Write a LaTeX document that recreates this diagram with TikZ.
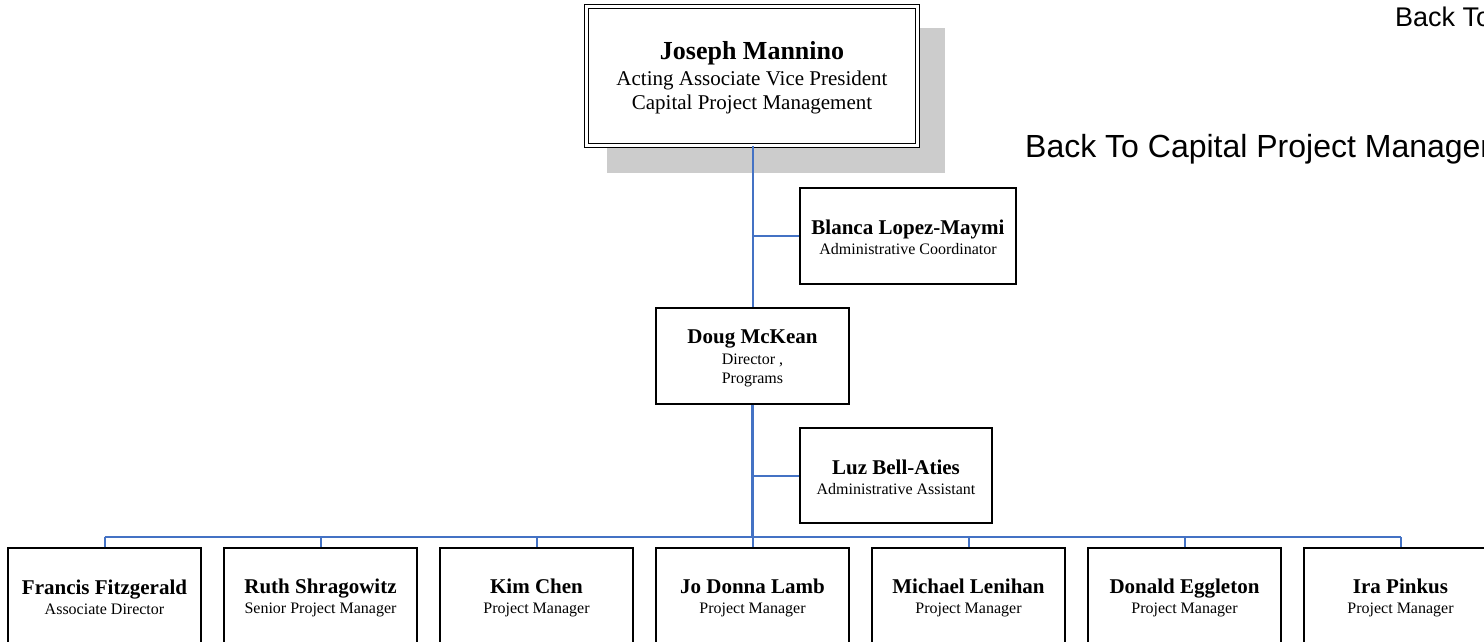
\documentclass[tikz,border=0pt]{standalone}
\usepackage{fontspec}
\setmainfont{Liberation Serif}
\newfontfamily\arialfont{Liberation Sans}
\definecolor{linkblue}{RGB}{68,114,196}
\definecolor{shadowgray}{RGB}{204,204,204}
\newcommand\pname[1]{{\fontsize{21}{21}\selectfont\bfseries\rule{0pt}{18pt}#1}}
\tikzset{
  orgbox/.style={draw=black, line width=1.3pt, fill=white, minimum width=193pt,
    minimum height=96pt, inner sep=0pt, align=center, font=\fontsize{16}{19}\selectfont},
  topbox/.style={draw=black, line width=1.3pt, double=white, double distance=2.4pt,
    fill=white, minimum width=331pt, minimum height=139pt, inner sep=0pt,
    align=center, font=\fontsize{21}{24.5}\selectfont},
  conn/.style={draw=linkblue, line width=2pt},
  trunk/.style={draw=linkblue, line width=3pt},
  backlink/.style={anchor=base west, inner sep=0pt, font=\arialfont}
}
\begin{document}
\begin{tikzpicture}[x=1pt,y=-1pt]
\useasboundingbox (0,0) rectangle (1484,642);
\clip (0,0) rectangle (1484,642);

% shadow of the top box
\fill[shadowgray] (607,28) rectangle (945,173);

% top box
\node[topbox] (jm) at (752,76) {{\fontsize{26}{26}\selectfont\bfseries\rule{0pt}{22pt}Joseph Mannino}\\[1.5pt]
  Acting Associate Vice President\\Capital Project Management};

% staff and director
\node[orgbox, minimum width=216pt] (blanca) at (908,236) {\pname{Blanca Lopez-Maymi}\\[1pt]Administrative Coordinator};
\node[orgbox] (doug) at (752.5,356) {\pname{Doug McKean}\\[2pt]Director ,\\Programs};
\node[orgbox, minimum width=192pt, minimum height=95pt] (luz) at (896,475.5) {\pname{Luz Bell-Aties}\\[1pt]Administrative Assistant};

% bottom row
\node[orgbox] (b1) at (104.5,596) {\pname{Francis Fitzgerald}\\[1pt]Associate Director};
\node[orgbox] (b2) at (320.5,596) {\pname{Ruth Shragowitz}\\[1pt]Senior Project Manager};
\node[orgbox] (b3) at (536.5,596) {\pname{Kim Chen}\\[1pt]Project Manager};
\node[orgbox] (b4) at (752.5,596) {\pname{Jo Donna Lamb}\\[1pt]Project Manager};
\node[orgbox] (b5) at (968.5,596) {\pname{Michael Lenihan}\\[1pt]Project Manager};
\node[orgbox] (b6) at (1184.5,596) {\pname{Donald Eggleton}\\[1pt]Project Manager};
\node[orgbox] (b7) at (1400.5,596) {\pname{Ira Pinkus}\\[1pt]Project Manager};

% connectors
\coordinate (bus) at (752.5,537);
\draw[conn] (jm.south -| doug.north) -- (doug.north);
\draw[conn] (blanca.west) -- (blanca.west -| doug.north);
\draw[trunk] (doug.south) -- (bus);
\draw[conn] (luz.west) -- (luz.west -| doug.south);
\draw[conn] (b1.north |- bus) -- (b7.north |- bus);
\foreach \b in {b1,b2,b3,b4,b5,b6,b7}
  \draw[conn] (\b.north) -- (\b.north |- bus);

% back links
\node[backlink, font=\arialfont\fontsize{27}{27}\selectfont] (back1) at (1395,27) {Back To};
\node[backlink, font=\arialfont\fontsize{32}{32}\selectfont] (back2) at (1025,157) {Back To Capital Project Management};
\end{tikzpicture}
\end{document}
